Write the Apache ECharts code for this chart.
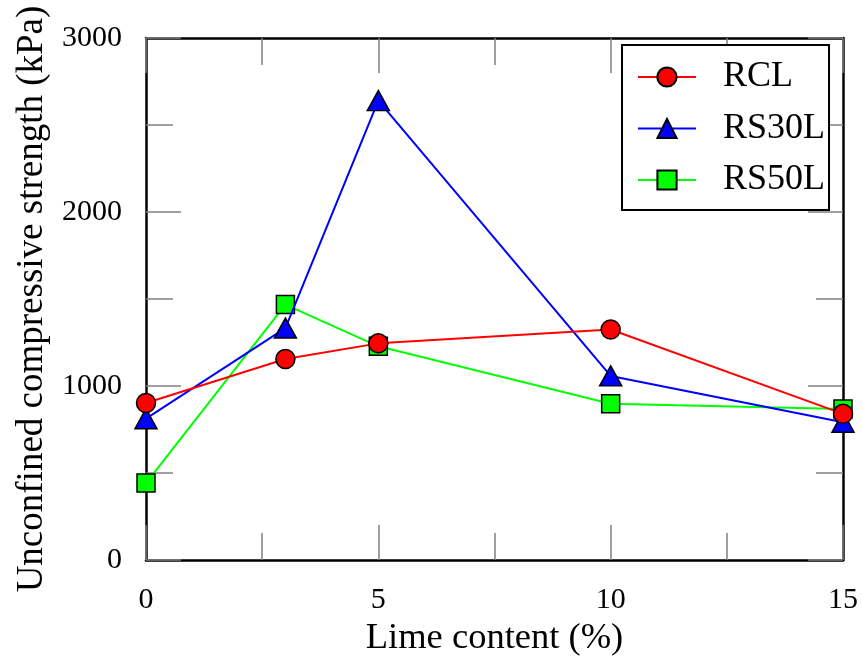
<!DOCTYPE html>
<html>
<head>
<meta charset="utf-8">
<script src="https://cdn.jsdelivr.net/npm/echarts@6/dist/echarts.min.js"></script>
<style>
html,body{margin:0;padding:0;background:#fff;}
#chart{width:862px;height:662px;}
</style>
</head>
<body>
<div id="chart"></div>
<script>
const limeContent = [0, 3, 5, 10, 15];
const rcl   = [902, 1155, 1245, 1325, 840];
const rs30l = [812, 1333, 2640, 1058, 792];
const rs50l = [442, 1468, 1228, 898, 868];
const xTickLabels = [0, 5, 10, 15];
const yTickLabels = [0, 1000, 2000, 3000];

const FONT = 'Liberation Serif';
const tickGray = '#808080';

function pairs(ys){ return limeContent.map((x,i)=>[x, ys[i]]); }

function commonTick(){
  return {
    axisLine:{show:true, onZero:false, lineStyle:{color:'#000', width:2.5}},
    axisTick:{show:true, inside:true, length:35, lineStyle:{color:tickGray, width:1.5}},
    minorTick:{show:true, splitNumber:2, length:27, lineStyle:{color:tickGray, width:1.5}},
    splitLine:{show:false}
  };
}

const chart = echarts.init(document.getElementById('chart'));
chart.setOption({
  animation:false,
  backgroundColor:'#fff',
  grid:{left:146, right:19, top:38, bottom:102, containLabel:false},
  xAxis:[
    Object.assign({
      type:'value', min:0, max:15, interval:5, position:'bottom',
      name:'Lime content (%)', nameLocation:'middle', nameGap:60,
      nameTextStyle:{fontFamily:FONT, fontSize:36.5, color:'#000'},
      axisLabel:{show:true, margin:25, fontFamily:FONT, fontSize:30, color:'#000',
        formatter:v=> xTickLabels.includes(v) ? String(v) : ''}
    }, commonTick()),
    Object.assign({
      type:'value', min:0, max:15, interval:5, position:'top',
      axisLabel:{show:false}
    }, commonTick())
  ],
  yAxis:[
    Object.assign({
      type:'value', min:0, max:3000, interval:1000, position:'left',
      name:'Unconfined compressive strength (kPa)', nameLocation:'middle', nameGap:81,
      nameTextStyle:{fontFamily:FONT, fontSize:37, color:'#000'},
      axisLabel:{show:true, margin:24, fontFamily:FONT, fontSize:30, color:'#000',
        formatter:v=> yTickLabels.includes(v) ? String(v) : ''}
    }, commonTick()),
    Object.assign({
      type:'value', min:0, max:3000, interval:1000, position:'right',
      axisLabel:{show:false}
    }, commonTick())
  ],
  legend:{
    data:['RCL','RS30L','RS50L'],
    orient:'vertical',
    left:622, top:45,
    backgroundColor:'#fff',
    borderColor:'#000', borderWidth:2,
    padding:[14,4,12,15],
    itemWidth:58, itemHeight:24, itemGap:15.5,
    textStyle:{fontFamily:FONT, fontSize:36, color:'#000', lineHeight:36, padding:[0,0,0,22]}
  },
  series:[
    {
      name:'RS50L', type:'line', data:pairs(rs50l),
      symbol:'rect', symbolSize:18,
      lineStyle:{color:'#00ff00', width:2},
      itemStyle:{color:'#00ff00', borderColor:'#000', borderWidth:1.5},
      z:2
    },
    {
      name:'RS30L', type:'line', data:pairs(rs30l),
      symbol:'triangle', symbolSize:[22,20],
      lineStyle:{color:'#0000ff', width:2},
      itemStyle:{color:'#0000ff', borderColor:'#000', borderWidth:1.5},
      z:3
    },
    {
      name:'RCL', type:'line', data:pairs(rcl),
      symbol:'circle', symbolSize:19,
      lineStyle:{color:'#ff0000', width:2},
      itemStyle:{color:'#ff0000', borderColor:'#000', borderWidth:1.5},
      z:4
    }
  ]
});
</script>
</body>
</html>
